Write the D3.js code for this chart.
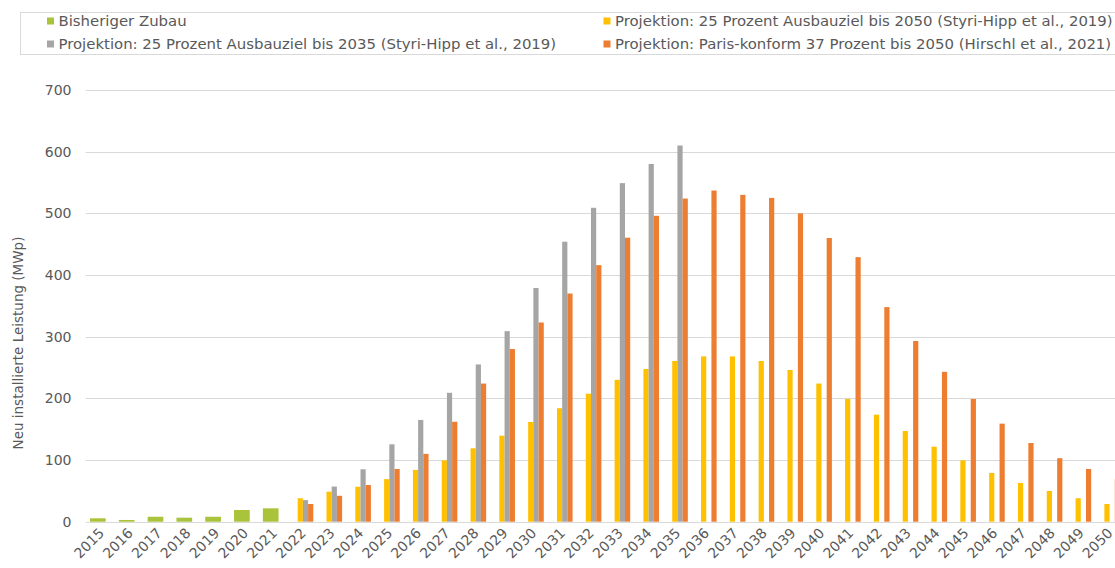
<!DOCTYPE html>
<html lang="de">
<head>
<meta charset="UTF-8">
<title>Neu installierte Leistung</title>
<script src="https://d3js.org/d3.v7.min.js"></script>
<style>
  body { margin: 0; background: #fff; }
  svg text { font-family: "DejaVu Sans", Verdana, sans-serif; fill: #595959; }
</style>
</head>
<body>
<div id="chart"></div>
<script>
  // data (MWp per year)
  const years = d3.range(2015, 2051).map(String);

  const bisherigerZubau = [5.5, 2.8, 8, 6.5, 8, 19, 21.7];

  const styriHipp2050 = [38, 48.7, 56.7, 69, 84, 99.5, 119, 139.5, 161.7, 184, 207.5, 230, 247.6, 260.6,
    268, 268, 260.6, 246, 224, 199, 173.5, 147, 121.6, 99.5, 79, 62.8, 49.8, 38, 28.7];

  const styriHipp2035 = [35, 57, 85, 125.5, 165, 209, 255, 309, 379, 454, 509, 549, 580, 610];

  const hirschl2050 = [28.7, 42, 59.5, 85.5, 110, 162, 224, 280, 323, 370, 416, 460.5, 496, 524,
    537, 530, 525, 500, 460, 429, 348, 293, 243, 199, 159, 127.6, 103, 85.5, 69];

  const yTicks = [0, 100, 200, 300, 400, 500, 600, 700];

  const legendLabels = [
    "Bisheriger Zubau",
    "Projektion: 25 Prozent Ausbauziel bis 2050 (Styri-Hipp et al., 2019)",
    "Projektion: 25 Prozent Ausbauziel bis 2035 (Styri-Hipp et al., 2019)",
    "Projektion: Paris-konform 37 Prozent bis 2050 (Hirschl et al., 2021)"
  ];

  const colors = ["#a9c43a", "#ffc000", "#a5a5a5", "#ed7d31"];

  const w = 1115, h = 568;

  const svg = d3.select("#chart").append("svg")
    .attr("width", w)
    .attr("height", h);

  // plot area runs past the right edge, like in the original screenshot
  const x = d3.scaleBand().domain(years).range([85.7, 1122.9]);
  const y = d3.scaleLinear().domain([0, 700]).range([521.7, 90]);

  // 4 slots inside each year, green one is drawn wider
  const slot = d3.scaleBand().domain([0, 1, 2, 3]).range([5.1, 25.9]);
  const greenX = d3.scaleBand().domain([0]).range([4.3, 20]);

  // gridlines
  svg.append("g")
    .selectAll("line")
    .data(yTicks)
    .enter()
    .append("line")
    .attr("x1", 85.7)
    .attr("x2", w)
    .attr("y1", d => Math.round(y(d)) + 0.5)
    .attr("y2", d => Math.round(y(d)) + 0.5)
    .attr("stroke", "#d9d9d9")
    .attr("stroke-width", 1);

  // y tick labels
  svg.append("g")
    .selectAll("text")
    .data(yTicks)
    .enter()
    .append("text")
    .attr("x", 71.5)
    .attr("y", d => y(d) + 5)
    .attr("text-anchor", "end")
    .style("font-size", "14px")
    .text(d => d);

  // y axis title
  svg.append("text")
    .attr("transform", "translate(23,343) rotate(-90)")
    .attr("text-anchor", "middle")
    .style("font-size", "13.5px")
    .text("Neu installierte Leistung (MWp)");

  function drawSeries(values, startIdx, color, xPos, bw) {
    svg.append("g")
      .selectAll("rect")
      .data(values.map((v, i) => ({ year: years[startIdx + i], v })))
      .enter()
      .append("rect")
      .attr("x", d => x(d.year) + xPos)
      .attr("width", bw)
      .attr("y", d => y(d.v))
      .attr("height", d => y(0) - y(d.v))
      .attr("fill", color);
  }

  drawSeries(bisherigerZubau, 0, colors[0], greenX(0), greenX.bandwidth());
  drawSeries(styriHipp2050, 7, colors[1], slot(1), slot.bandwidth());
  drawSeries(styriHipp2035, 7, colors[2], slot(2), slot.bandwidth());
  drawSeries(hirschl2050, 7, colors[3], slot(3), slot.bandwidth());

  // x labels, rotated
  svg.append("g")
    .selectAll("text")
    .data(years)
    .enter()
    .append("text")
    .attr("transform", d => `translate(${x(d) + x.bandwidth() / 2 + 5},${534}) rotate(-45)`)
    .attr("text-anchor", "end")
    .style("font-size", "14px")
    .text(d => d);

  // legend
  const legend = svg.append("g");
  legend.append("rect")
    .attr("x", 20.5)
    .attr("y", 12.5)
    .attr("width", 1110)
    .attr("height", 42)
    .attr("fill", "#fff")
    .attr("stroke", "#d9d9d9");

  const legendPos = [[47, 21], [603.5, 21], [47, 44], [603.5, 44]];

  const item = legend.selectAll(".item")
    .data(legendLabels)
    .enter()
    .append("g")
    .attr("class", "item")
    .attr("transform", (d, i) => `translate(${legendPos[i][0]},${legendPos[i][1]})`);

  item.append("rect")
    .attr("x", 0)
    .attr("y", -3.5)
    .attr("width", 7)
    .attr("height", 7)
    .attr("fill", (d, i) => colors[i]);

  item.append("text")
    .attr("x", 11.5)
    .attr("y", 5.4)
    .style("font-size", "14.9px")
    .text(d => d);
</script>
</body>
</html>
